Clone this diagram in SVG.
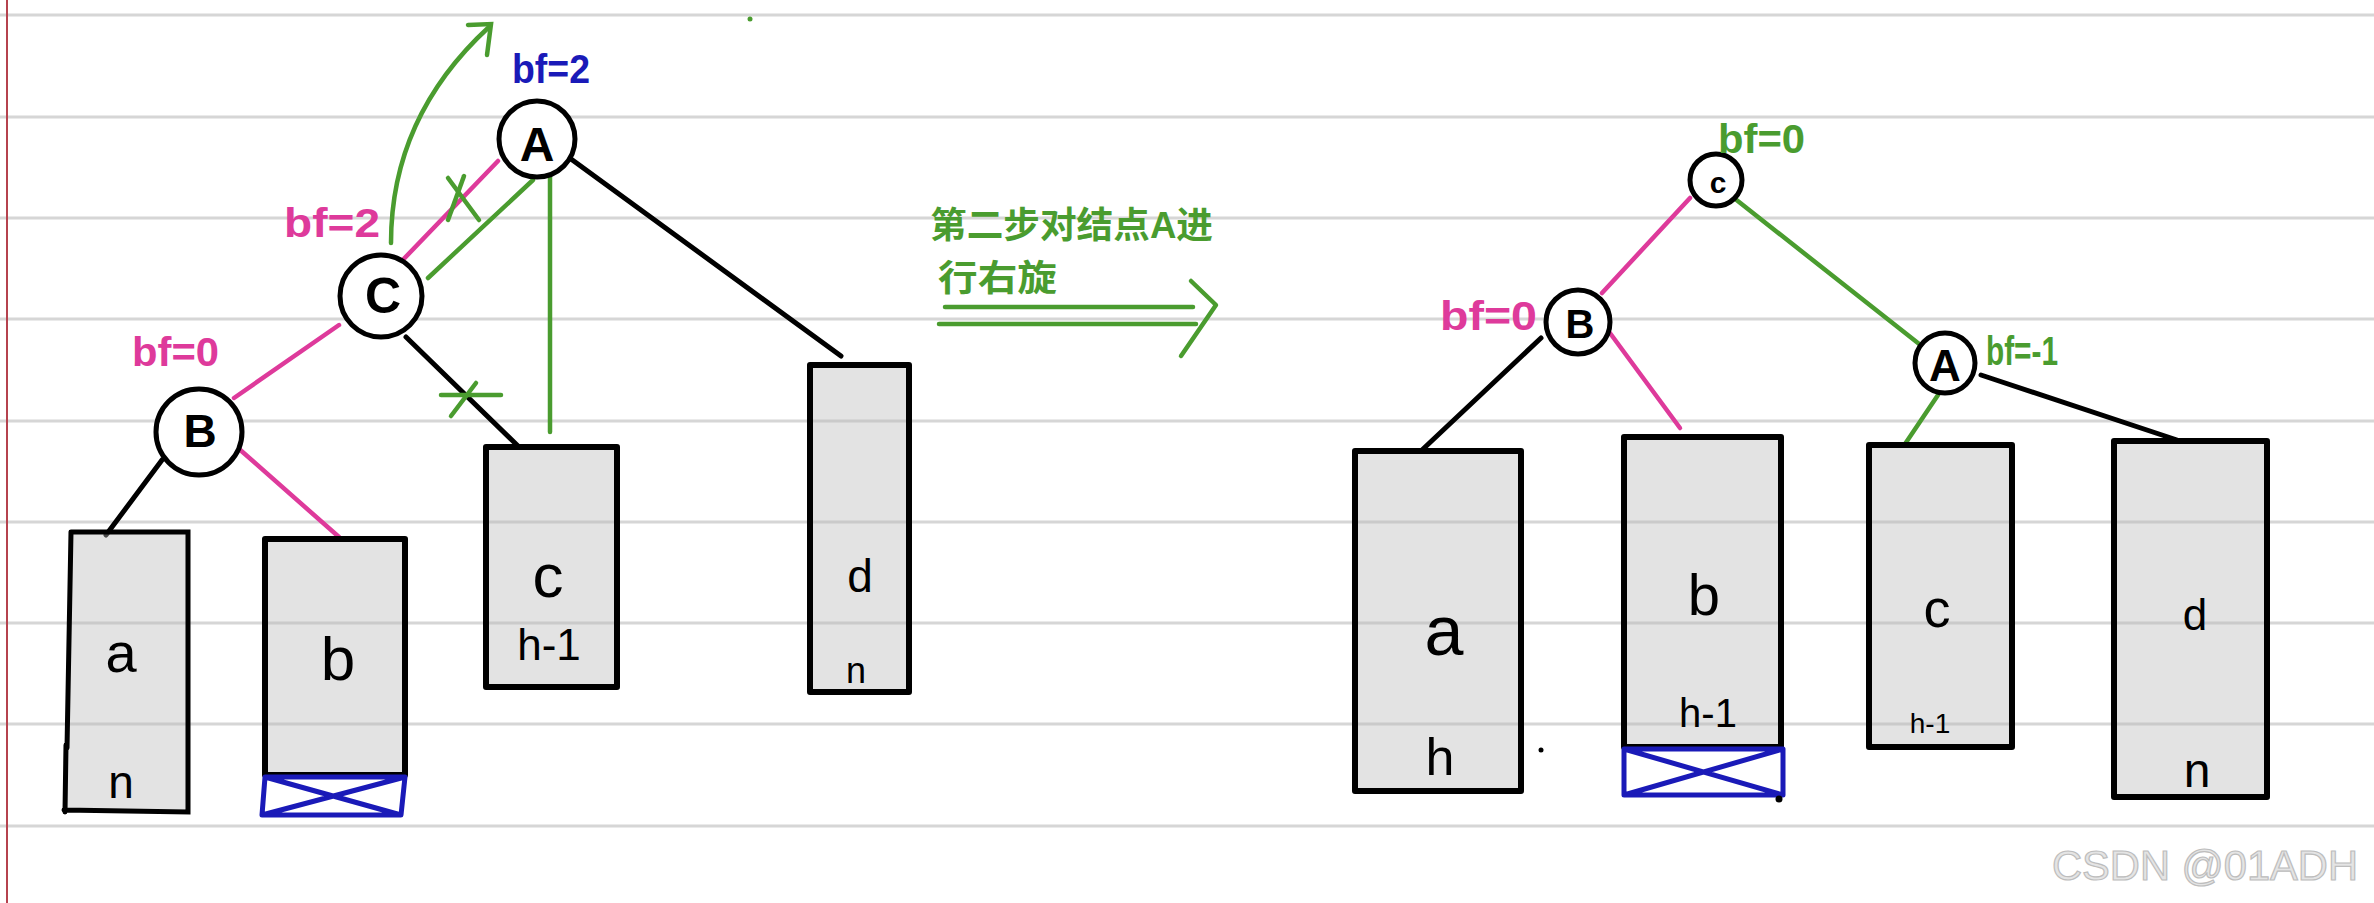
<svg xmlns="http://www.w3.org/2000/svg" width="2374" height="903" viewBox="0 0 2374 903">
<defs>
<style>
.rule{stroke:#d6d6d6;stroke-width:3}
.box{fill:rgba(185,185,185,0.4);stroke:#000;stroke-width:6;stroke-linejoin:round}
.xbox{fill:none;stroke:#1a1ab8;stroke-width:5;stroke-linejoin:round}
.node{fill:#fff;stroke:#000;stroke-width:5}
.blk{stroke:#000;stroke-width:5;stroke-linecap:round;fill:none}
.pnk{stroke:#de3a9b;stroke-width:4.5;stroke-linecap:round;fill:none}
.grn{stroke:#4a9c2f;stroke-width:4.5;stroke-linecap:round;fill:none}
.lbl{font-family:"Liberation Sans",Arial,sans-serif;text-anchor:middle;fill:#000}
.nl{font-family:"Liberation Sans",Arial,sans-serif;text-anchor:middle;fill:#000;font-weight:bold}
.bf{font-family:"Liberation Sans",Arial,sans-serif;font-weight:bold;font-size:40px}
.cjk{font-family:"Liberation Sans","Noto Sans CJK SC",sans-serif;font-weight:bold;font-size:36px;fill:#4a9c2f}
</style>
</defs>
<rect width="2374" height="903" fill="#fff"/>
<g id="paper">
<line class="rule" x1="0" y1="15" x2="2374" y2="15"/>
<line class="rule" x1="0" y1="117" x2="2374" y2="117"/>
<line class="rule" x1="0" y1="218" x2="2374" y2="218"/>
<line class="rule" x1="0" y1="319" x2="2374" y2="319"/>
<line class="rule" x1="0" y1="421" x2="2374" y2="421"/>
<line class="rule" x1="0" y1="522" x2="2374" y2="522"/>
<line class="rule" x1="0" y1="623" x2="2374" y2="623"/>
<line class="rule" x1="0" y1="724" x2="2374" y2="724"/>
<line class="rule" x1="0" y1="826" x2="2374" y2="826"/>
<line x1="7" y1="0" x2="7" y2="903" stroke="#b5424e" stroke-width="2"/>
</g>
<g id="connectors">
<!-- left tree -->
<line class="pnk" x1="396" y1="267" x2="498" y2="161"/>
<line class="grn" x1="448" y1="178" x2="479" y2="220"/>
<line class="grn" x1="464" y1="176" x2="448" y2="220"/>
<line class="grn" x1="428" y1="278" x2="533" y2="180"/>
<line class="grn" x1="550" y1="177" x2="550" y2="432"/>
<line class="blk" x1="571" y1="159" x2="841" y2="356"/>
<line class="pnk" x1="339" y1="325" x2="234" y2="398"/>
<line class="blk" x1="406" y1="337" x2="518" y2="446"/>
<line class="grn" x1="441" y1="395" x2="501" y2="395"/>
<line class="grn" x1="476" y1="383" x2="451" y2="416"/>
<line class="blk" x1="162" y1="460" x2="106" y2="535"/>
<line class="pnk" x1="238" y1="448" x2="339" y2="537"/>
<path class="grn" d="M391,243 C391,170 415,95 489,27"/>
<path class="grn" d="M468,25 L491,24 L487,55"/>
<circle cx="750" cy="19" r="2.5" fill="#4a9c2f"/>
<!-- middle arrow -->
<line class="grn" x1="945" y1="307" x2="1193" y2="307" stroke-width="5"/>
<line class="grn" x1="939" y1="324" x2="1196" y2="324" stroke-width="5"/>
<path class="grn" d="M1191,281 L1216,305 L1181,356" stroke-width="5" stroke-linejoin="round"/>
<!-- right tree -->
<line class="pnk" x1="1690" y1="198" x2="1602" y2="293"/>
<line class="grn" x1="1734" y1="198" x2="1923" y2="347"/>
<line class="blk" x1="1541" y1="338" x2="1422" y2="450"/>
<line class="pnk" x1="1607" y1="329" x2="1680" y2="428"/>
<line class="grn" x1="1938" y1="395" x2="1905" y2="444"/>
<line class="blk" x1="1981" y1="375" x2="2177" y2="440"/>
</g>
<g id="node-A-left">
<circle class="node" cx="537" cy="139" r="38"/>
<text class="nl" x="537" y="161" font-size="48">A</text>
<text class="bf" x="512" y="83" fill="#1a1ab8" textLength="78" lengthAdjust="spacingAndGlyphs">bf=2</text>
</g>
<g id="node-C-left">
<circle class="node" cx="381" cy="296" r="41"/>
<text class="nl" x="383" y="313" font-size="50">C</text>
<text class="bf" x="284" y="237" fill="#de3a9b" textLength="96" lengthAdjust="spacingAndGlyphs">bf=2</text>
</g>
<g id="node-B-left">
<circle class="node" cx="199" cy="432" r="43"/>
<text class="nl" x="200" y="447" font-size="46">B</text>
<text class="bf" x="132" y="366" fill="#de3a9b" textLength="87" lengthAdjust="spacingAndGlyphs">bf=0</text>
</g>
<g id="subtree-a-left">
<path d="M71,532 L188,532 L188,812 L64,810 Z" fill="rgba(185,185,185,0.4)"/>
<path d="M71,532 L188,532 L188,812 L64,810 M71,532 L67,748 M66,745 L65,812" class="blk" stroke-width="6"/>
<text class="lbl" x="121" y="672" font-size="56">a</text>
<text class="lbl" x="121" y="798" font-size="46">n</text>
</g>
<g id="subtree-b-left">
<rect class="box" x="265" y="539" width="140" height="236"/>
<path class="xbox" d="M265,777 L405,777 L401,815 L262,815 Z M265,777 L401,815 M405,777 L262,815"/>
<text class="lbl" x="338" y="680" font-size="62">b</text>
</g>
<g id="subtree-c-left">
<rect class="box" x="486" y="447" width="131" height="240"/>
<text class="lbl" x="548" y="597" font-size="62">c</text>
<text class="lbl" x="549" y="660" font-size="44">h-1</text>
</g>
<g id="subtree-d-left">
<rect class="box" x="810" y="365" width="99" height="327"/>
<text class="lbl" x="860" y="592" font-size="46">d</text>
<text class="lbl" x="856" y="683" font-size="36">n</text>
</g>
<g id="step-label">
<text class="cjk" x="930" y="238" textLength="283" lengthAdjust="spacingAndGlyphs">第二步对结点A进</text>
<text class="cjk" x="938" y="291" textLength="119" lengthAdjust="spacingAndGlyphs">行右旋</text>
</g>
<g id="node-C-right">
<circle class="node" cx="1716" cy="180" r="26"/>
<text class="nl" x="1718" y="193" font-size="30">c</text>
<text class="bf" x="1718" y="153" fill="#4a9c2f" font-size="42" textLength="87" lengthAdjust="spacingAndGlyphs">bf=0</text>
</g>
<g id="node-B-right">
<circle class="node" cx="1578" cy="322" r="32"/>
<text class="nl" x="1580" y="338" font-size="40">B</text>
<text class="bf" x="1440" y="330" fill="#de3a9b" font-size="50" textLength="97" lengthAdjust="spacingAndGlyphs">bf=0</text>
</g>
<g id="node-A-right">
<circle class="node" cx="1945" cy="363" r="30"/>
<text class="nl" x="1945" y="381" font-size="44">A</text>
<text class="bf" x="1986" y="365" fill="#4a9c2f" font-size="42" textLength="72" lengthAdjust="spacingAndGlyphs">bf=-1</text>
</g>
<g id="subtree-a-right">
<rect class="box" x="1355" y="451" width="166" height="340"/>
<text class="lbl" x="1444" y="655" font-size="70">a</text>
<text class="lbl" x="1440" y="775" font-size="52">h</text>
<circle cx="1541" cy="750" r="2.5" fill="#000"/>
</g>
<g id="subtree-b-right">
<rect class="box" x="1624" y="437" width="157" height="310"/>
<path class="xbox" d="M1624,749 L1783,749 L1783,795 L1624,795 Z M1624,749 L1783,795 M1783,749 L1624,795"/>
<text class="lbl" x="1704" y="615" font-size="58">b</text>
<text class="lbl" x="1708" y="727" font-size="40">h-1</text>
<circle cx="1779" cy="799" r="3.5" fill="#000"/>
</g>
<g id="subtree-c-right">
<rect class="box" x="1869" y="445" width="143" height="302"/>
<text class="lbl" x="1937" y="627" font-size="54">c</text>
<text class="lbl" x="1930" y="733" font-size="28">h-1</text>
</g>
<g id="subtree-d-right">
<rect class="box" x="2114" y="441" width="153" height="356"/>
<text class="lbl" x="2195" y="630" font-size="44">d</text>
<text class="lbl" x="2197" y="787" font-size="48">n</text>
</g>
<text x="2052" y="880" font-family="Liberation Sans,Arial,sans-serif" font-size="42" fill="#e4e4e4" stroke="#bdbdbd" stroke-width="1.2" textLength="306" lengthAdjust="spacingAndGlyphs">CSDN @01ADH</text>
</svg>
